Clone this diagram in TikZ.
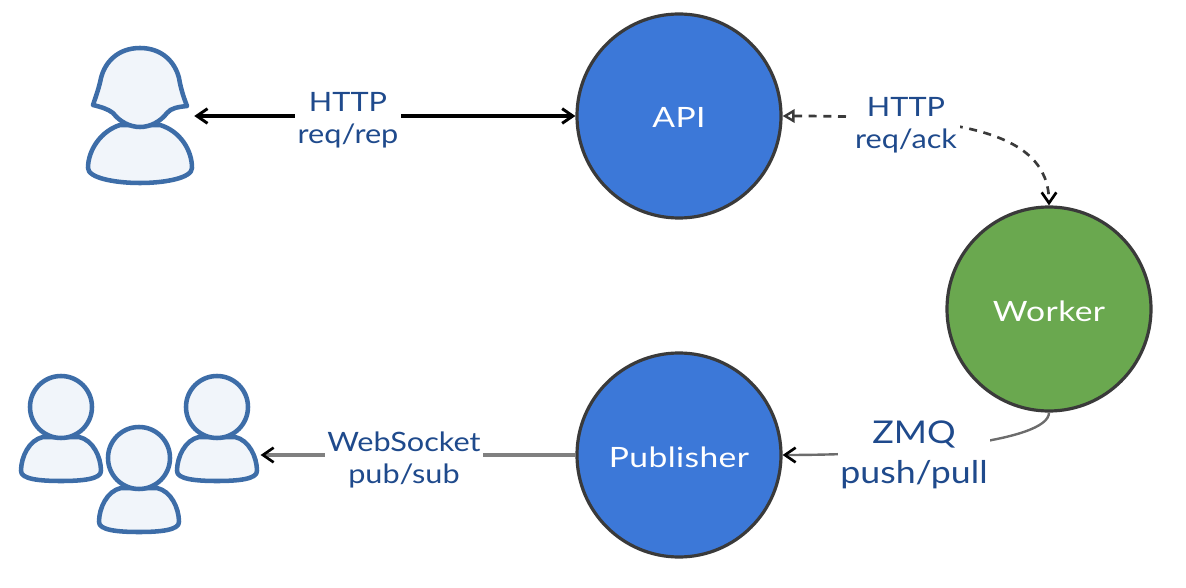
\documentclass[tikz,border=0pt]{standalone}
\usepackage{fontspec}
\setmainfont[FakeStretch=1.15]{Lato}
\newfontfamily\hubfont[FakeStretch=1.2,LetterSpace=1.5]{Lato}
\newfontfamily\bigfont[FakeStretch=1.14]{Lato}
\usetikzlibrary{arrows.meta}
\definecolor{blueNode}{HTML}{3C78D8}
\definecolor{greenNode}{HTML}{6AA84F}
\definecolor{ringCol}{HTML}{3A3A3A}
\definecolor{personLine}{HTML}{3D6DA8}
\definecolor{personFill}{HTML}{F1F5FA}
\definecolor{labelCol}{HTML}{1F4A8C}
\tikzset{
  hub/.style={circle,draw=ringCol,line width=2.4pt,minimum size=153pt,inner sep=0pt,text=white,text height=18pt,text depth=0pt,font=\hubfont\fontsize{21}{25}\selectfont},
  lbl/.style={fill=white,text=labelCol,align=center,inner sep=2pt,font=\fontsize{20}{24}\selectfont},
  biglbl/.style={lbl,font=\bigfont\fontsize{23.5}{30}\selectfont},
  persondraw/.style={draw=personLine,fill=personFill,line width=3.4pt,line join=round},
  anchorbox/.style={inner sep=0pt,minimum height=30pt},
  pics/guy/.style={code={
    \path[persondraw] (-18,30) .. controls (-32,33) and (-40,50) .. (-40,64)
      .. controls (-40,72) and (-22,74) .. (0,74)
      .. controls (22,74) and (40,72) .. (40,64)
      .. controls (40,50) and (32,33) .. (18,30) -- cycle;
    \path[persondraw] (0,0) circle (31);
  }}
}
\begin{document}
\begin{tikzpicture}[x=0.75pt,y=-0.75pt]
\useasboundingbox (0,0) rectangle (1186,588);
% single user
\path[persondraw] (120,125) .. controls (101,131) and (88,150) .. (88,168)
  .. controls (88,178) and (115,183) .. (140,183)
  .. controls (165,183) and (192,178) .. (192,168)
  .. controls (192,150) and (180,131) .. (160,125) -- cycle;
\path[persondraw] (140,48) .. controls (162,48) and (175,62) .. (179,78)
  .. controls (181,90) and (184,98) .. (187,106)
  .. controls (178,107) and (171,108) .. (167,113)
  .. controls (160,122) and (150,127) .. (140,127)
  .. controls (130,127) and (120,122) .. (113,113)
  .. controls (108,109) and (101,107) .. (93,105)
  .. controls (96,96) and (99,88) .. (101,78)
  .. controls (105,62) and (118,48) .. (140,48) -- cycle;
% group of users
\pic at (61,407) {guy};
\pic at (139,458) {guy};
\pic at (217,407) {guy};
\node[anchorbox,minimum width=81pt] (user) at (140,116) {};
\node[anchorbox,minimum width=182pt] (group) at (139,455) {};
% hubs
\node[hub,fill=blueNode] (api) at (679,116) {API};
\node[hub,fill=blueNode] (publisher) at (679,455) {Publisher};
\node[hub,fill=greenNode] (worker) at (1049,309) {Worker};
% connectors
\draw[line width=2.6pt,black,{Straight Barb[length=8pt,width=11pt,line width=2.2pt]}-{Straight Barb[length=8pt,width=11pt,line width=2.2pt]}] (user.east) -- (api.west);
\draw[line width=2pt,ringCol,dash pattern=on 6pt off 5pt,{Triangle[open,length=9pt,width=10pt,line width=1.8pt]}-{Straight Barb[length=8pt,width=11pt,line width=2pt,color=black]}]
  (api.east) .. controls +(170,0) and +(0,-76) .. (worker.north);
\draw[line width=1.8pt,color=gray!85!black,{Straight Barb[length=8pt,width=11pt,line width=2pt,color=black]}-]
  (publisher.east) .. controls +(118,0) and +(0,30) .. (worker.south);
\draw[line width=2.4pt,color=gray,{Straight Barb[length=8pt,width=11pt,line width=2pt,color=black]}-]
  (group.east) -- (publisher.west);
% labels
\node[lbl] (l1) at (348,120) {HTTP\\req/rep};
\node[lbl] (l2) at (906,125) {HTTP\\req/ack};
\node[lbl] (l3) at (404,460) {WebSocket\\pub/sub};
\node[biglbl] (l4) at (914,455) {ZMQ\\push/pull};
\end{tikzpicture}
\end{document}
